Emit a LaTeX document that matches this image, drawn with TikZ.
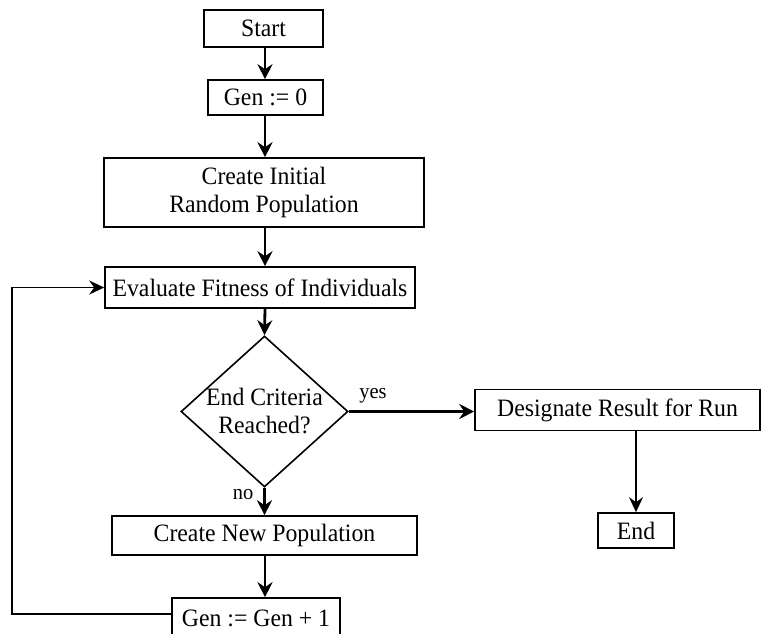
\documentclass[tikz,border=0pt]{standalone}
\usepackage{fontspec}
\setmainfont[FakeStretch=0.95]{Liberation Serif}
\usetikzlibrary{arrows.meta,shapes.geometric}
\begin{document}
\begin{tikzpicture}[x=1pt,y=-1pt,
  box/.style={draw,line width=1.6pt,inner sep=0pt,align=center,font=\fontsize{25}{28}\selectfont},
  flow/.style={line width=2.8pt,-{Stealth[length=15pt,width=15pt,inset=5pt]}},
  flowthin/.style={line width=1.5pt,-{Stealth[length=15pt,width=14pt,inset=5pt]}},
  lbl/.style={font=\fontsize{21.5}{24}\selectfont,inner sep=0pt}]
\useasboundingbox (0,0) rectangle (769,634);
\clip (0,0) rectangle (769,634);
\coordinate (axis) at (265,0);
\node[box,minimum width=119pt,minimum height=37pt] (start) at (263.5,28.5) {Start};
\node[box,minimum width=115pt,minimum height=35pt] (gen0) at (265.5,97.5) {Gen := 0};
\node[box,minimum width=320pt,minimum height=69pt] (init) at (264,192.5) {Create Initial\\Random Population};
\node[box,minimum width=310pt,minimum height=41pt] (eval) at (260,287.5) {Evaluate Fitness of Individuals};
\node[box,diamond,inner sep=-25pt,minimum width=167pt,minimum height=151pt] (dec) at (264.5,411.5) {End Criteria\\Reached?};
\node[box,minimum width=285pt,minimum height=41pt] (desig) at (617.5,410) {Designate Result for Run};
\node[box,minimum width=76pt,minimum height=35pt] (endn) at (636,530.5) {End};
\node[box,minimum width=305pt,minimum height=39pt] (newpop) at (264.5,535.5) {Create New Population};
\node[box,minimum width=168pt,minimum height=40pt] (genp) at (256,618) {Gen := Gen + 1};
\node[lbl] (yes) at (373,396) {yes};
\node[lbl] (no) at (243,495) {no};
\coordinate (lc) at (12,614);
\draw[flow] (start.south -| axis) -- (gen0.north -| axis);
\draw[flow] (gen0.south -| axis) -- (init.north -| axis);
\draw[flow] (init.south -| axis) -- (eval.north -| axis);
\draw[flow] (eval.south -| axis) -- (dec.north);
\draw[flow] (dec.south) -- (newpop.north -| dec.south);
\draw[flow] (newpop.south -| axis) -- (genp.north -| axis);
\draw[flow] (dec.east) -- (desig.west |- dec.east);
\draw[flowthin] (desig.south -| endn.north) -- (endn.north);
\draw[flowthin] ([yshift=4pt]genp.west) -- (lc) |- (eval.west);
\end{tikzpicture}
\end{document}
